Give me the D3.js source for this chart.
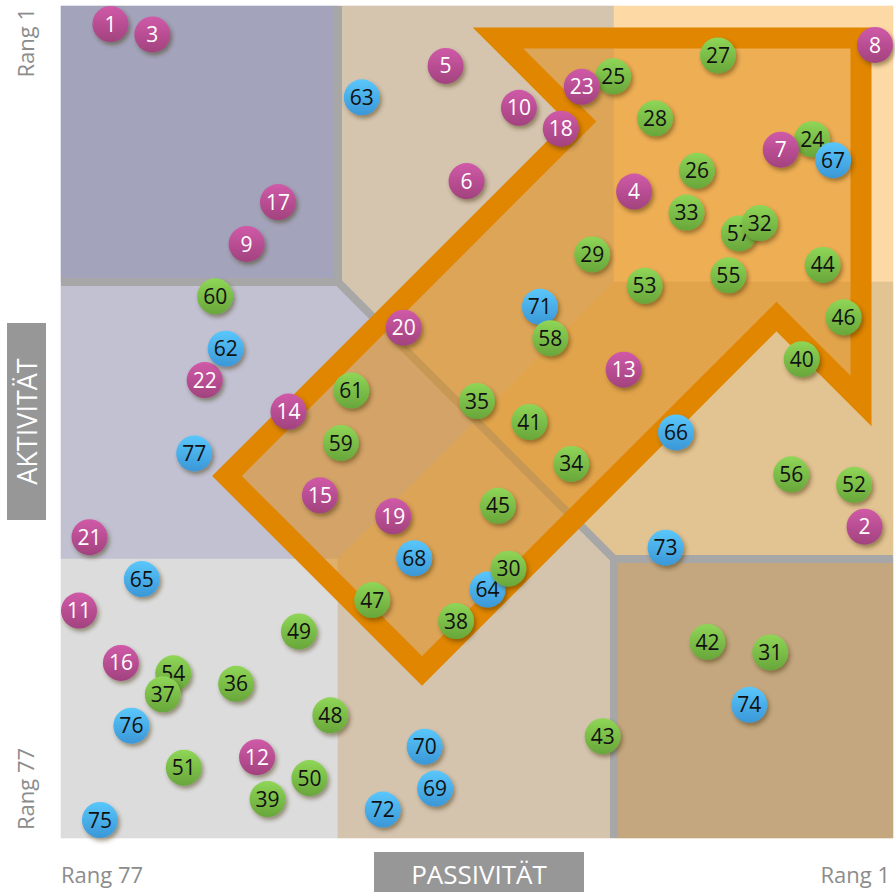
<!DOCTYPE html>
<html><head><meta charset="utf-8">
<script src="https://cdn.jsdelivr.net/npm/d3@7"></script>
<style>
html,body{margin:0;padding:0;background:#fff;}
svg{display:block;font-family:"Open Sans",sans-serif;}
</style></head><body>
<svg id="chart" width="895" height="892"></svg>
<script>
// ---------- DATA ----------
const ids = d3.range(1, 78);
// group per id: A = magenta (1-23), B = green (24-61), C = blue (62-77)
const groups = [
 "A","A","A","A","A","A","A","A","A","A","A","A","A","A","A","A","A","A","A","A","A","A","A",
 "B","B","B","B","B","B","B","B","B","B","B","B","B","B","B","B","B","B","B","B","B","B","B","B","B","B","B","B","B","B","B","B","B","B","B","B","B","B",
 "C","C","C","C","C","C","C","C","C","C","C","C","C","C","C","C"];
// Passivität rank (x axis, 77 left -> 1 right)
const passivRank = [74,2,70,24,42,40,10,1,61,35,77,60,25,57,54,73,58,31,47,46,76,65,29,
 7,26,18,16,22,28,36,11,12,19,30,39,62,69,41,59,8,34,17,27,6,37,4,49,53,56,55,67,3,23,68,15,9,14,32,52,64,51,
 63,50,38,71,20,5,45,43,44,33,48,21,13,75,72,66];
// Aktivität rank (y axis, 1 top -> 77 bottom)
const aktivRank = [1,49,2,17,5,16,13,3,22,9,57,71,34,38,46,62,18,11,48,30,50,35,7,
 12,6,15,4,10,23,53,61,20,19,43,37,64,65,58,75,33,39,60,69,24,47,29,56,67,59,73,72,45,26,63,25,44,21,31,41,27,36,
 32,8,55,54,40,14,52,74,70,28,76,51,66,77,68,42];
const groupNames = ["B","A","C"]; // drawing order
const drawLast = [58, 30];        // points lying on top of their neighbours
const axisLabels = {xLow:"Rang 77", xHigh:"Rang 1", yLow:"Rang 77", yHigh:"Rang 1", xTitle:"PASSIVITÄT", yTitle:"AKTIVITÄT"};

// ---------- STYLE / LAYOUT ----------
const R = 18;
const plot = {l:61, t:6, r:893, b:838};
const colors = {
  A:{top:"#d05aa8", bot:"#a2427e", text:"#ffffff"},
  B:{top:"#8fd657", bot:"#68a63a", text:"#111111"},
  C:{top:"#5ac7fc", bot:"#3a97d6", text:"#111111"}
};

const svg = d3.select("#chart");
const x = d3.scaleLinear().domain([77, 1]).range([plot.l + R, plot.r - R]);
const y = d3.scaleLinear().domain([1, 77]).range([plot.t + R, plot.b - R]);
// normalized scales for background geometry
const u = d3.scaleLinear().domain([0,1]).range([plot.l, plot.r]);
const v = d3.scaleLinear().domain([0,1]).range([plot.t, plot.b]);

const defs = svg.append("defs");
Object.entries(colors).forEach(([k,c]) => {
  const g = defs.append("linearGradient").attr("id","grad"+k).attr("x1",0).attr("y1",0).attr("x2",0).attr("y2",1);
  g.append("stop").attr("offset","0%").attr("stop-color",c.top);
  g.append("stop").attr("offset","100%").attr("stop-color",c.bot);
});
const f = defs.append("filter").attr("id","shadow").attr("x","-50%").attr("y","-50%").attr("width","200%").attr("height","200%");
f.append("feDropShadow").attr("dx",2).attr("dy",3).attr("stdDeviation",2.2).attr("flood-color","#3a2a10").attr("flood-opacity",0.45);

// background regions (normalized coords)
const X1 = (338-61)/832, X2 = (614-61)/832, Y1 = (282-6)/832, Y2 = (559-6)/832;
const C = [(X1+X2)/2, (Y1+Y2)/2];
const regions = [
  {c:"#a3a3bb", p:[[0,0],[X1,0],[X1,Y1],[0,Y1]]},
  {c:"#d5c5af", p:[[X1,0],[X2,0],[X2,Y1],C,[X1,Y1]]},
  {c:"#fdd9a6", p:[[X2,0],[1,0],[1,Y1],[X2,Y1]]},
  {c:"#c1c1d1", p:[[0,Y1],[X1,Y1],C,[X1,Y2],[0,Y2]]},
  {c:"#e2c392", p:[[X2,Y1],[1,Y1],[1,Y2],[X2,Y2],C]},
  {c:"#dcdcdc", p:[[0,Y2],[X1,Y2],[X1,1],[0,1]]},
  {c:"#d4c4ae", p:[[X1,Y2],C,[X2,Y2],[X2,1],[X1,1]]},
  {c:"#c4a77e", p:[[X2,Y2],[1,Y2],[1,1],[X2,1]]}
];
const line = d3.line().x(d=>u(d[0])).y(d=>v(d[1]));
svg.append("g").selectAll("path").data(regions).join("path")
  .attr("d", d => line(d.p) + "Z").attr("fill", d=>d.c).attr("stroke", d=>d.c).attr("stroke-width",0.6);

// grey separator lines
const seps = [
  [[X1,0],[X1,Y1],[0,Y1]],
  [[X1,Y1],[X2,Y2]],
  [[X2,1],[X2,Y2],[1,Y2]]
];
svg.append("g").selectAll("path").data(seps).join("path")
  .attr("d", d=>line(d)).attr("fill","none").attr("stroke","#a7a7a7").attr("stroke-width",8).attr("stroke-linejoin","miter");

// arrow (centerline polygon, pixel -> normalized)
const arrowPx = [[227,476],[581.5,121.5],[498,38],[861,38],[861,401],[776.5,316.5],[422,671]];
const arrow = arrowPx.map(p => [(p[0]-61)/832, (p[1]-6)/832]);
svg.append("path").attr("d", line(arrow)+"Z")
  .attr("fill","rgba(226,138,17,0.55)").attr("stroke","#e08600").attr("stroke-width",21)
  .attr("stroke-linejoin","miter").attr("stroke-miterlimit",10);

// data points
const data = ids.map((id,i) => ({id, g:groups[i], px:passivRank[i], ay:aktivRank[i]}));
let ordered = [];
groupNames.forEach(gn => {
  const sub = data.filter(d=>d.g===gn);
  if (gn === "B") sub.reverse();
  ordered.push(...sub);
});
ordered = ordered.filter(d => !drawLast.includes(d.id)).concat(data.filter(d => drawLast.includes(d.id)));
const pts = svg.append("g").selectAll("g").data(ordered).join("g")
  .attr("transform", d => `translate(${x(d.px)},${y(d.ay)})`);
pts.append("circle").attr("r",R).attr("fill",d=>`url(#grad${d.g})`).attr("filter","url(#shadow)");
pts.append("text").attr("text-anchor","middle").attr("dy","0.36em")
  .attr("font-size",21).attr("fill",d=>colors[d.g].text).text(d=>d.id);

// axis labels
const grey = "#8c8c8c";
svg.append("text").attr("transform",`translate(34,${plot.t+2}) rotate(-90)`).attr("text-anchor","end")
  .attr("font-size",22).attr("fill",grey).text(axisLabels.yHigh);
svg.append("text").attr("transform",`translate(34,${plot.b-8}) rotate(-90)`).attr("text-anchor","start")
  .attr("font-size",22).attr("fill",grey).text(axisLabels.yLow);
svg.append("text").attr("x",plot.l).attr("y",883).attr("font-size",22).attr("fill",grey).text(axisLabels.xLow);
svg.append("text").attr("x",890).attr("y",883).attr("text-anchor","end").attr("font-size",22).attr("fill",grey).text(axisLabels.xHigh);

// titles in grey boxes
svg.append("rect").attr("x",374).attr("y",852).attr("width",210).attr("height",40).attr("fill","#979797");
svg.append("text").attr("x",479).attr("y",884).attr("text-anchor","middle").attr("font-size",26).attr("fill","#fff").text(axisLabels.xTitle);
svg.append("rect").attr("x",7).attr("y",323).attr("width",39).attr("height",197).attr("fill","#979797");
svg.append("text").attr("transform",`translate(37,421.5) rotate(-90)`).attr("text-anchor","middle")
  .attr("font-size",27).attr("fill","#fff").text(axisLabels.yTitle);
</script>
</body></html>
